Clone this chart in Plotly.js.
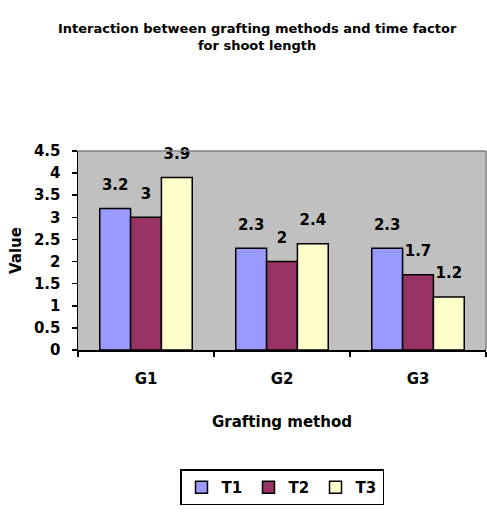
<!DOCTYPE html>
<html>
<head>
<meta charset="utf-8">
<script src="https://cdn.plot.ly/plotly-3.0.1.min.js"></script>
<style>html,body{margin:0;padding:0;background:#fff;}#chart{width:487px;height:512px;}</style>
</head>
<body>
<div id="chart"></div>
<script>
const categories = ["G1", "G2", "G3"];
const seriesNames = ["T1", "T2", "T3"];
const t1Values = [3.2, 2.3, 2.3];
const t2Values = [3, 2, 1.7];
const t3Values = [3.9, 2.4, 1.2];
const seriesColors = ["#9999FF", "#993366", "#FFFFCC"];

const fontFamily = "'DejaVu Sans', 'Open Sans', sans-serif";
const allValues = [t1Values, t2Values, t3Values];

const barTraces = allValues.map((vals, i) => ({
  type: "bar",
  name: seriesNames[i],
  x: categories,
  y: vals,
  marker: {color: seriesColors[i], line: {color: "#000", width: 1.5}},
  hoverinfo: "skip"
}));

const labelTraces = allValues.map((vals, i) => ({
  type: "scatter",
  mode: "text+markers",
  name: seriesNames[i] + " labels",
  showlegend: false,
  x: categories,
  y: vals,
  text: vals.map(v => String(v)),
  textposition: "top center",
  cliponaxis: false,
  marker: {size: 22, color: "rgba(0,0,0,0)", line: {width: 0}},
  textfont: {family: fontFamily, size: 15, color: "#000", weight: "bold"},
  hoverinfo: "skip"
}));

const layout = {
  width: 487, height: 512,
  margin: {l: 78, r: 1, t: 151, b: 162},
  paper_bgcolor: "#fff",
  plot_bgcolor: "#C0C0C0",
  barmode: "group",
  bargap: 0.32,
  bargroupgap: 0,
  scattermode: "group",
  scattergap: 0.32,
  font: {family: fontFamily, color: "#000"},
  title: {
    text: "Interaction between grafting methods and time factor<br>for shoot length",
    font: {family: fontFamily, size: 13, weight: "bold", color: "#000"},
    x: 0.528, xanchor: "center", xref: "container",
    y: 0.935, yanchor: "top", yref: "container"
  },
  xaxis: {
    showline: true, linecolor: "#000", linewidth: 1.5,
    ticks: "outside", tickson: "boundaries", ticklen: 5, tickcolor: "#000", tickwidth: 1.5,
    ticklabelstandoff: 14,
    tickfont: {family: fontFamily, size: 15, weight: "bold"},
    title: {text: "Grafting method", font: {family: fontFamily, size: 15, weight: "bold"}, standoff: 30},
    showgrid: false
  },
  yaxis: {
    range: [0, 4.5], dtick: 0.5,
    showline: true, linecolor: "#000", linewidth: 1.5,
    ticks: "outside", ticklen: 5, tickcolor: "#000", tickwidth: 1.5,
    ticklabelstandoff: 8,
    tickfont: {family: fontFamily, size: 15, weight: "bold"},
    title: {text: "Value", font: {family: fontFamily, size: 15, weight: "bold"}, standoff: 8},
    showgrid: false, zeroline: false
  },
  shapes: [
    {type: "line", xref: "paper", yref: "paper", x0: 0, x1: 1, y0: 1, y1: 1, line: {color: "#808080", width: 1.5}},
    {type: "line", xref: "paper", yref: "paper", x0: 1, x1: 1, y0: 0, y1: 1, line: {color: "#808080", width: 1.5}}
  ],
  showlegend: true,
  legend: {
    orientation: "h",
    x: 0.5, xanchor: "center",
    y: -0.6, yanchor: "top",
    bordercolor: "#000", borderwidth: 1.5,
    font: {family: fontFamily, size: 15, weight: "bold"},
    itemwidth: 30,
    entrywidth: 22,
    entrywidthmode: "pixels"
  }
};

Plotly.newPlot("chart", barTraces.concat(labelTraces), layout, {displayModeBar: false, staticPlot: true});
</script>
</body>
</html>
